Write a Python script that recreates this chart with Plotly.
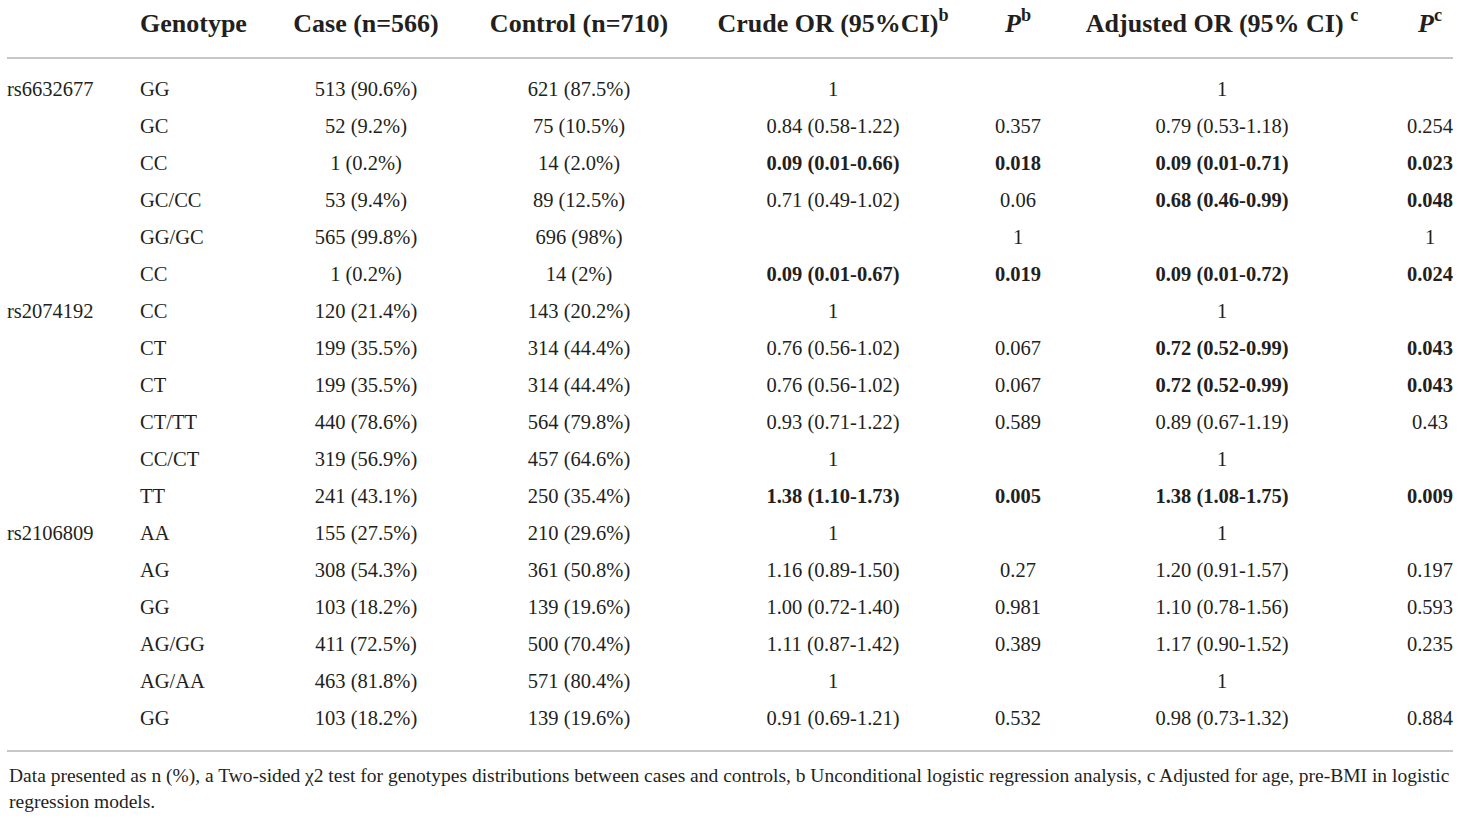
import plotly.graph_objects as go

# ------------------------------------------------------------
# Data (one entry per table row)
# ------------------------------------------------------------
snp = ["rs6632677", "", "", "", "", "",
       "rs2074192", "", "", "", "", "",
       "rs2106809", "", "", "", "", ""]
genotype = ["GG", "GC", "CC", "GC/CC", "GG/GC", "CC",
            "CC", "CT", "CT", "CT/TT", "CC/CT", "TT",
            "AA", "AG", "GG", "AG/GG", "AG/AA", "GG"]
case = ["513 (90.6%)", "52 (9.2%)", "1 (0.2%)", "53 (9.4%)", "565 (99.8%)", "1 (0.2%)",
        "120 (21.4%)", "199 (35.5%)", "199 (35.5%)", "440 (78.6%)", "319 (56.9%)", "241 (43.1%)",
        "155 (27.5%)", "308 (54.3%)", "103 (18.2%)", "411 (72.5%)", "463 (81.8%)", "103 (18.2%)"]
control = ["621 (87.5%)", "75 (10.5%)", "14 (2.0%)", "89 (12.5%)", "696 (98%)", "14 (2%)",
           "143 (20.2%)", "314 (44.4%)", "314 (44.4%)", "564 (79.8%)", "457 (64.6%)", "250 (35.4%)",
           "210 (29.6%)", "361 (50.8%)", "139 (19.6%)", "500 (70.4%)", "571 (80.4%)", "139 (19.6%)"]
crude_or = ["1", "0.84 (0.58-1.22)", "0.09 (0.01-0.66)", "0.71 (0.49-1.02)", "", "0.09 (0.01-0.67)",
            "1", "0.76 (0.56-1.02)", "0.76 (0.56-1.02)", "0.93 (0.71-1.22)", "1", "1.38 (1.10-1.73)",
            "1", "1.16 (0.89-1.50)", "1.00 (0.72-1.40)", "1.11 (0.87-1.42)", "1", "0.91 (0.69-1.21)"]
p_crude = ["", "0.357", "0.018", "0.06", "1", "0.019",
           "", "0.067", "0.067", "0.589", "", "0.005",
           "", "0.27", "0.981", "0.389", "", "0.532"]
adj_or = ["1", "0.79 (0.53-1.18)", "0.09 (0.01-0.71)", "0.68 (0.46-0.99)", "", "0.09 (0.01-0.72)",
          "1", "0.72 (0.52-0.99)", "0.72 (0.52-0.99)", "0.89 (0.67-1.19)", "1", "1.38 (1.08-1.75)",
          "1", "1.20 (0.91-1.57)", "1.10 (0.78-1.56)", "1.17 (0.90-1.52)", "1", "0.98 (0.73-1.32)"]
p_adj = ["", "0.254", "0.023", "0.048", "1", "0.024",
         "", "0.043", "0.043", "0.43", "", "0.009",
         "", "0.197", "0.593", "0.235", "", "0.884"]

# rows shown in bold (significant)
crude_bold = [2, 5, 11]
adj_bold = [2, 3, 5, 7, 8, 11]

headers = ["", "Genotype", "Case (n=566)", "Control (n=710)",
           "Crude OR (95%CI)<sup>b</sup>", "<i>P</i><sup>b</sup>",
           "Adjusted OR (95% CI) <sup>c</sup>", "<i>P</i><sup>c</sup>"]

footnote = ["Data presented as n (%), a Two-sided \u03c72 test for genotypes distributions between cases and controls, "
            "b Unconditional logistic regression analysis, c Adjusted for age, pre-BMI in logistic",
            "regression models."]

# ------------------------------------------------------------
# Layout constants (screen pixels)
# ------------------------------------------------------------
FONT = "Liberation Serif"
INK = "#231f20"
W, H = 1460, 818
COL_X = [7, 140, 366, 579, 833, 1018, 1222, 1430]
COL_POS = ["middle right", "middle right"] + ["middle center"] * 6
ROW_PX = 37.0          # pixel height of one body row
TOP_PX = 89.0          # screen y of first body row
TEXT_NUDGE = 2         # text renders slightly above its anchor


def px_to_row(py):
    return (py - TOP_PX) / ROW_PX


def bolden(values, rows):
    return [f"<b>{v}</b>" if (i in rows and v) else v for i, v in enumerate(values)]


columns = [snp, genotype, case, control,
           bolden(crude_or, crude_bold), bolden(p_crude, crude_bold),
           bolden(adj_or, adj_bold), bolden(p_adj, adj_bold)]
rows = [r + TEXT_NUDGE / ROW_PX for r in range(len(genotype))]

fig = go.Figure()

# body cells
for cx, pos, col in zip(COL_X, COL_POS, columns):
    fig.add_trace(go.Scatter(
        x=[cx] * len(rows), y=rows, mode="text", text=col,
        textposition=pos, textfont=dict(family=FONT, size=20.5, color=INK),
        cliponaxis=False, hoverinfo="skip", showlegend=False
    ))

# header
hy = px_to_row(23 + TEXT_NUDGE)
for cx, pos, h in zip(COL_X, COL_POS, headers):
    fig.add_trace(go.Scatter(
        x=[cx], y=[hy], mode="text", text=[f"<b>{h}</b>" if h else ""],
        textposition=pos, textfont=dict(family=FONT, size=26, color=INK),
        cliponaxis=False, hoverinfo="skip", showlegend=False
    ))

# rules
for py in (58, 751):
    fig.add_shape(type="line", x0=7, x1=1453, y0=px_to_row(py), y1=px_to_row(py),
                  line=dict(color="#b5b5b5", width=1.5))

# footnote
for py, line in zip((774, 799), footnote):
    fig.add_annotation(x=7, y=px_to_row(py + TEXT_NUDGE), text=line, showarrow=False,
                       xanchor="left", yanchor="middle",
                       font=dict(family=FONT, size=19.5, color=INK))

fig.update_layout(
    width=W, height=H, margin=dict(l=0, r=0, t=0, b=0),
    paper_bgcolor="white", plot_bgcolor="white",
    xaxis=dict(range=[0, W], visible=False, fixedrange=True),
    yaxis=dict(range=[px_to_row(H), px_to_row(0)], visible=False, fixedrange=True),
)

# drop the default page margin so the figure fills the window
fig.write_html("out.html", config={"displayModeBar": False},
               post_script="document.body.style.margin = '0';")
